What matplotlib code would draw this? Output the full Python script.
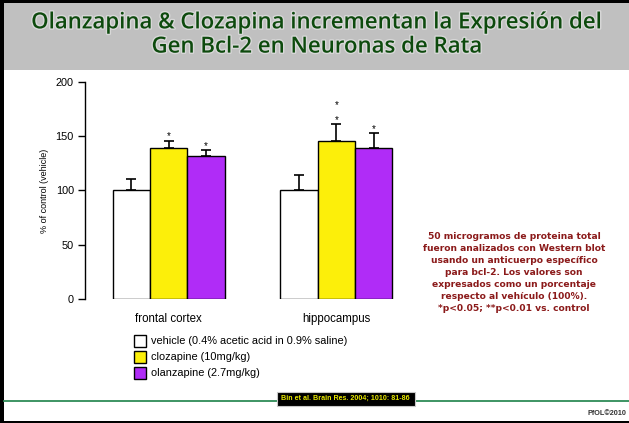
import matplotlib
matplotlib.use("Agg")
import matplotlib.pyplot as plt
from matplotlib.patches import Rectangle
import matplotlib.patheffects as pe
import numpy as np

# ---------------- data ----------------
regions = ["frontal cortex", "hippocampus"]
series = ["vehicle (0.4% acetic acid in 0.9% saline)",
          "clozapine (10mg/kg)",
          "olanzapine (2.7mg/kg)"]
vehicle = [100, 100]
clozapine = [139, 146]
olanzapine = [132, 139]
vehicle_err = [11, 14]
clozapine_err = [7, 15]
olanzapine_err = [5, 14]
# number of asterisks above each bar
vehicle_sig = [0, 0]
clozapine_sig = [1, 2]
olanzapine_sig = [1, 1]
yticks = [0, 50, 100, 150, 200]

title = "Olanzapina & Clozapina incrementan la Expresión del\nGen Bcl-2 en Neuronas de Rata"
note = ("50 microgramos de proteina total\nfueron analizados con Western blot\n"
        "usando un anticuerpo específico\npara bcl-2. Los valores son\n"
        "expresados como un porcentaje\nrespecto al vehículo (100%).\n"
        "*p<0.05; **p<0.01 vs. control")
citation = "Bin et al. Brain Res. 2004; 1010: 81-86"
footer = "PfOL©2010"

colors = ["#ffffff", "#fcef0a", "#b02cf7"]

W, H = 629, 423
fig = plt.figure(figsize=(W / 100, H / 100), dpi=100)
fig.patch.set_facecolor("white")

def fx(px):
    return px / W

def fy(py):
    return 1 - py / H

# header band
fig.patches.append(Rectangle((fx(4), fy(70)), 1, 67 / H, transform=fig.transFigure,
                             facecolor="#c0c0c0", edgecolor="none", zorder=0))
# frame (left, top, bottom)
fig.patches.append(Rectangle((0, 0), fx(4), 1, transform=fig.transFigure,
                             facecolor="black", edgecolor="none", zorder=1))
fig.patches.append(Rectangle((0, fy(3)), 1, 3 / H, transform=fig.transFigure,
                             facecolor="black", edgecolor="none", zorder=1))
fig.patches.append(Rectangle((0, 0), 1, 2.5 / H, transform=fig.transFigure,
                             facecolor="black", edgecolor="none", zorder=1))

fig.text(0.505, fy(35), title, ha="center", va="center", fontsize=16, color="#0d4a0d",
         family=["Open Sans", "DejaVu Sans"], weight="semibold", linespacing=1.2,
         path_effects=[pe.withStroke(linewidth=2.0, foreground="#d8d8d8")])

# ---------------- chart ----------------
ax = fig.add_axes([fx(85), fy(298.7), fx(400 - 85), (298.7 - 82.3) / H])
ax.set_facecolor("none")
x = np.arange(len(regions))
w = 0.2227
vals = [vehicle, clozapine, olanzapine]
errs = [vehicle_err, clozapine_err, olanzapine_err]
sigs = [vehicle_sig, clozapine_sig, olanzapine_sig]
for i in range(3):
    pos = x + (i - 1) * w
    ax.bar(pos, vals[i], width=w, color=colors[i], edgecolor="black", linewidth=1.0, zorder=2,
           yerr=[np.zeros(len(regions)), errs[i]],
           error_kw=dict(ecolor="black", elinewidth=1.2, capsize=3.3, capthick=1.2, zorder=1))
    for j in range(len(regions)):
        top = vals[i][j] + errs[i][j]
        for k in range(sigs[i][j]):
            ax.text(pos[j], top - 0.5 + 14 * k, "*", ha="center", va="bottom",
                    fontsize=7, family="Liberation Sans", color="black")

ax.set_xlim(-0.5, 1.38)
ax.set_ylim(0, 200)
ax.set_yticks(yticks)
ax.set_xticks(x)
ax.set_xticklabels(regions, family="Liberation Sans", fontsize=8.3)
ax.tick_params(axis="x", length=0, pad=10)
ax.tick_params(axis="y", length=5, width=1, pad=3, labelsize=7.8)
for lab in ax.get_yticklabels():
    lab.set_family("Liberation Sans")
for s in ["top", "right", "bottom"]:
    ax.spines[s].set_visible(False)
ax.spines["left"].set_linewidth(1.0)
ax.set_ylabel("% of control (vehicle)", family="Liberation Sans", fontsize=6.5, labelpad=5)

# legend
for i, (lab, c) in enumerate(zip(series, colors)):
    yc = 341 + 16 * i
    fig.patches.append(Rectangle((fx(134), fy(yc + 6)), fx(12), 12 / H, transform=fig.transFigure,
                                 facecolor=c, edgecolor="black", linewidth=1.0))
    fig.text(fx(151), fy(yc), lab, ha="left", va="center", fontsize=7.9,
             family="Liberation Sans", color="black")

# note text
fig.text(fx(514), fy(272.5), note, ha="center", va="center", fontsize=6.6,
         family="DejaVu Sans", weight="bold", color="#8b1a1a", linespacing=1.42)

# green line and citation
fig.add_artist(plt.Line2D([fx(4), 1], [fy(400.7), fy(400.7)], transform=fig.transFigure,
                          color="#2e8b57", linewidth=1.3, zorder=2))
fig.patches.append(Rectangle((fx(276.7), fy(405.7)), fx(138.3), 13.7 / H, transform=fig.transFigure,
                             facecolor="black", edgecolor="#c8c8c8", linewidth=0.8, zorder=3))
fig.text(fx(345.5), fy(398.8), citation, ha="center", va="center", fontsize=5.1,
         family="Liberation Sans", weight="bold", color="#e8e800", zorder=4)

fig.text(fx(626), fy(413), footer, ha="right", va="center", fontsize=5.2,
         family="Liberation Sans", weight="bold", color="#333333")

fig.savefig("out.png", dpi=100, facecolor=fig.get_facecolor())
